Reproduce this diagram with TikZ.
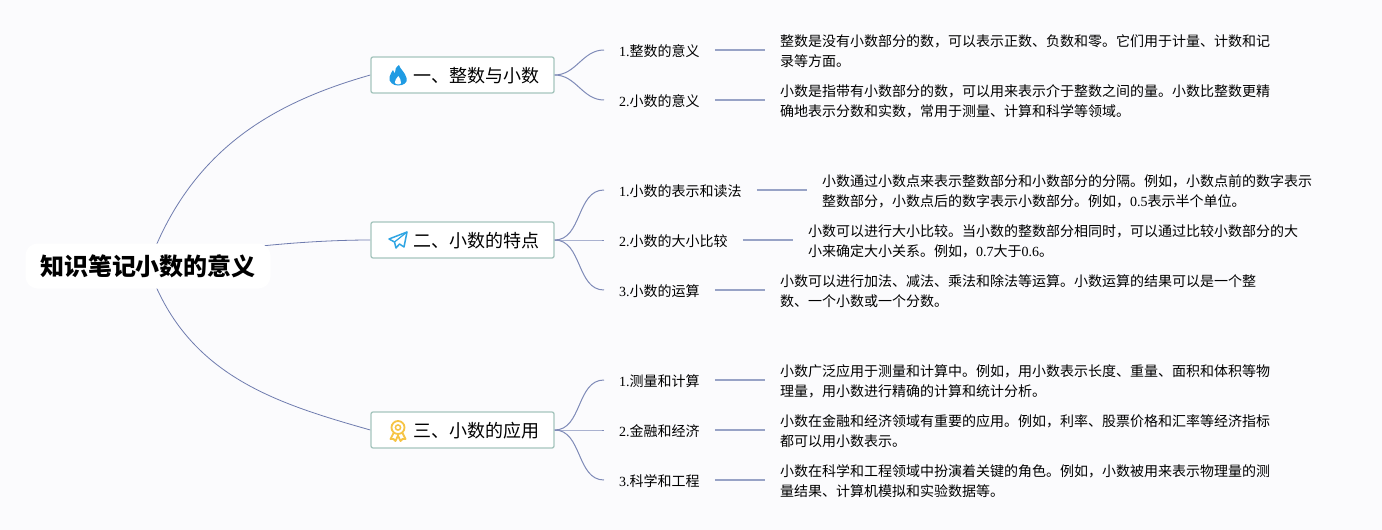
\documentclass[tikz,border=0pt]{standalone}
\usepackage{fontspec}
\setmainfont{Noto Sans CJK SC}
\newfontfamily\lat{Liberation Serif}
\usetikzlibrary{positioning}
\usetikzlibrary{backgrounds}
\definecolor{pagecol}{HTML}{FBFBFD}
\definecolor{linkcol}{HTML}{6E7BAE}
\definecolor{sublinkcol}{HTML}{7F8BB8}
\definecolor{stubcol}{HTML}{98A3C6}
\definecolor{boxcol}{HTML}{A5C5BD}
\definecolor{flamecol}{HTML}{1F9BE3}
\definecolor{planecol}{HTML}{2FA5E3}
\definecolor{medalcol}{HTML}{F6C445}
\tikzset{
rootnode/.style = {fill=white, rounded corners=12pt, minimum width=245pt, minimum height=45pt,
                   inner sep=0pt, text height=21.4pt, text depth=1.8pt,
                   font=\fontsize{24}{28}\selectfont\bfseries},
branch/.style = {draw=boxcol, line width=1.3pt, fill=white, rounded corners=2pt, inner xsep=15pt,
                 inner ysep=0pt, text width=153pt, align=right, minimum height=36pt,
                 text height=17pt, text depth=1.3pt, font=\fontsize{18}{22}\selectfont},
itemnode/.style = {inner xsep=15pt, inner ysep=2pt, text height=14pt, text depth=1.4pt,
                   font=\fontsize{14}{20}\selectfont},
descnode/.style = {inner xsep=15pt, inner ysep=0pt, align=left, yshift=-1pt,
                   font=\fontsize{14}{20}\selectfont},
link/.style = {draw=linkcol, line width=0.8pt},
sublink/.style = {draw=sublinkcol, line width=1pt},
stub/.style = {draw=stubcol, line width=1.4pt},
flameicon/.pic = {
    \fill[flamecol] (1,-10) .. controls (2,-6) and (7,-3) .. (8.5,3)
        .. controls (10,8) and (5,10.5) .. (0,10.5)
        .. controls (-5,10.5) and (-9.5,7) .. (-8.5,2)
        .. controls (-8,-1) and (-6,-3) .. (-5,-5)
        .. controls (-4.5,-3.5) and (-4,-2.5) .. (-3,-2)
        .. controls (-3.5,-5) and (-2,-8) .. (1,-10) -- cycle;
    \fill[white] (0.3,1) .. controls (1,3) and (4,5) .. (3,8)
        .. controls (2.5,10) and (-2.5,10) .. (-3.2,7.5)
        .. controls (-3.8,5) and (-0.8,3.5) .. (0.3,1) -- cycle;
},
planeicon/.pic = {
    \draw[planecol, line width=1.5pt, line join=round]
        (9,-8) -- (-9,-1) -- (-3.5,2) -- (-2,8) -- (1.5,4) -- (6,7) -- cycle;
    \draw[planecol, line width=1.2pt, line join=round] (9,-8) -- (-3.5,2);
},
medalicon/.pic = {
    \draw[medalcol, line width=1.8pt] (0,-3.5) circle (6.5pt);
    \draw[medalcol, line width=1.5pt] (0,-3.5) circle (2.6pt);
    \draw[medalcol, line width=1.8pt, line join=round]
        (-4.5,2) -- (-7.5,8) -- (-4.5,8) -- (-2.5,10) -- (0,4.5) -- (2.5,10) -- (4.5,8) -- (7.5,8) -- (4.5,2);
}
}

\begin{document}
\begin{tikzpicture}[x=1pt,y=-1pt]
    \useasboundingbox (0,0) rectangle (1382,530);

    \node[rootnode] (root) at (148,266) {知识笔记小数的意义};
    \node[branch] (b1) at (462.5,75) {一、整数与小数};
    \node[branch] (b2) at (462.5,240) {二、小数的特点};
    \node[branch] (b3) at (462.5,430) {三、小数的应用};

    \pic at (398,75) {flameicon};
    \pic at (398,240) {planeicon};
    \pic at (398,431) {medalicon};

    % first branch
    \node[itemnode, anchor=west] (i11) at (604,50) {{\lat 1.}整数的意义};
    \node[descnode, right=50pt of i11] (d11) {整数是没有小数部分的数，可以表示正数、负数和零。它们用于计量、计数和记\\录等方面。};
    \node[itemnode, anchor=west] (i12) at (604,100) {{\lat 2.}小数的意义};
    \node[descnode, right=50pt of i12] (d12) {小数是指带有小数部分的数，可以用来表示介于整数之间的量。小数比整数更精\\确地表示分数和实数，常用于测量、计算和科学等领域。};

    % second branch
    \node[itemnode, anchor=west] (i21) at (604,190) {{\lat 1.}小数的表示和读法};
    \node[descnode, right=50pt of i21] (d21) {小数通过小数点来表示整数部分和小数部分的分隔。例如，小数点前的数字表示\\整数部分，小数点后的数字表示小数部分。例如，{\lat 0.5}表示半个单位。};
    \node[itemnode, anchor=west] (i22) at (604,240) {{\lat 2.}小数的大小比较};
    \node[descnode, right=50pt of i22] (d22) {小数可以进行大小比较。当小数的整数部分相同时，可以通过比较小数部分的大\\小来确定大小关系。例如，{\lat 0.7}大于{\lat 0.6}。};
    \node[itemnode, anchor=west] (i23) at (604,290) {{\lat 3.}小数的运算};
    \node[descnode, right=50pt of i23] (d23) {小数可以进行加法、减法、乘法和除法等运算。小数运算的结果可以是一个整\\数、一个小数或一个分数。};

    % third branch
    \node[itemnode, anchor=west] (i31) at (604,380) {{\lat 1.}测量和计算};
    \node[descnode, right=50pt of i31] (d31) {小数广泛应用于测量和计算中。例如，用小数表示长度、重量、面积和体积等物\\理量，用小数进行精确的计算和统计分析。};
    \node[itemnode, anchor=west] (i32) at (604,430) {{\lat 2.}金融和经济};
    \node[descnode, right=50pt of i32] (d32) {小数在金融和经济领域有重要的应用。例如，利率、股票价格和汇率等经济指标\\都可以用小数表示。};
    \node[itemnode, anchor=west] (i33) at (604,480) {{\lat 3.}科学和工程};
    \node[descnode, right=50pt of i33] (d33) {小数在科学和工程领域中扮演着关键的角色。例如，小数被用来表示物理量的测\\量结果、计算机模拟和实验数据等。};

    \begin{scope}[on background layer]
    \fill[pagecol] (0,0) rectangle (1382,530);
    \draw[link] (root.center) .. controls (190,150) and (272,103) .. (b1.west);
    \draw[link] (root.center) .. controls (200,250) and (300,240) .. (b2.west);
    \draw[link] (root.center) .. controls (185,375) and (275,403) .. (b3.west);
    \end{scope}

    \path
    (b1.east) edge[sublink, out=0, in=180] (i11.west)
    (b1.east) edge[sublink, out=0, in=180] (i12.west)
    (b2.east) edge[sublink, out=0, in=180] (i21.west)
    (b2.east) edge[sublink, out=0, in=180] (i22.west)
    (b2.east) edge[sublink, out=0, in=180] (i23.west)
    (b3.east) edge[sublink, out=0, in=180] (i31.west)
    (b3.east) edge[sublink, out=0, in=180] (i32.west)
    (b3.east) edge[sublink, out=0, in=180] (i33.west)
    (i11.east) edge[stub] (i11.east -| d11.west)
    (i12.east) edge[stub] (i12.east -| d12.west)
    (i21.east) edge[stub] (i21.east -| d21.west)
    (i22.east) edge[stub] (i22.east -| d22.west)
    (i23.east) edge[stub] (i23.east -| d23.west)
    (i31.east) edge[stub] (i31.east -| d31.west)
    (i32.east) edge[stub] (i32.east -| d32.west)
    (i33.east) edge[stub] (i33.east -| d33.west);
\end{tikzpicture}
\end{document}
